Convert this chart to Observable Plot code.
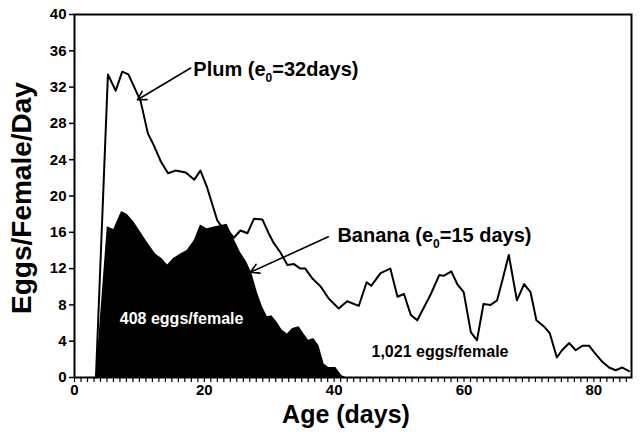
<!DOCTYPE html>
<html><head><meta charset="utf-8">
<script src="https://cdn.jsdelivr.net/npm/d3@7"></script>
<script src="https://cdn.jsdelivr.net/npm/@observablehq/plot@0.6"></script>
<style>body{margin:0;background:#fff} svg{font-family:"Liberation Sans",Arial,sans-serif}</style>
</head><body><div id="chart"></div>
<script>
// Plum (line) : age (days) and eggs/female/day
const plumDay = [3.3,5.15,6.35,7.35,8.3,9.4,10.2,11.3,12.2,13.3,14.4,15.55,17.15,18.45,19.4,20.4,22.0,22.5,23.6,24.55,25.55,26.65,27.65,28.95,29.9,30.7,31.7,32.8,33.8,34.8,35.55,36.65,37.95,39.15,40.7,42.0,43.8,45.0,45.7,47.15,48.65,49.75,50.75,51.8,52.8,54.9,56.2,56.85,58.05,58.95,59.95,61.05,62.0,63.0,64.1,65.1,65.9,66.9,68.15,69.25,70.25,71.15,72.35,73.2,74.3,75.1,76.2,77.2,78.25,79.25,80.25,81.35,82.35,83.35,84.4,85.4];
const plumVal = [0,33.4,31.6,33.7,33.4,31.7,30.4,26.9,25.6,23.8,22.5,22.8,22.6,21.8,22.8,21.0,17.3,16.8,16.2,15.4,16.2,15.9,17.5,17.4,15.9,14.8,13.8,12.4,12.5,12.0,12.0,10.9,10.0,8.7,7.6,8.4,7.9,10.5,10.1,11.5,12.0,8.9,9.2,6.9,6.3,9.2,11.3,11.2,11.7,10.3,9.4,5.0,4.1,8.1,8.0,8.5,10.7,13.5,8.5,10.3,9.4,6.3,5.6,4.9,2.2,3.0,3.8,3.0,3.5,3.5,2.6,1.7,1.1,0.8,1.1,0.7];
// Banana (filled area)
const bananaDay = [3.3,5.05,6.05,7.25,8.1,9.1,10.2,11.2,12.5,13.45,14.35,15.25,16.35,17.35,18.45,19.4,20.4,21.7,23.5,24.55,25.55,26.55,27.35,28.15,28.95,29.7,30.4,31.2,32.0,32.8,33.6,34.6,35.35,36.05,36.85,37.65,38.45,39.15,40.25,41.2,41.8];
const bananaVal = [0,16.6,16.3,18.3,18.0,17.2,16.0,14.9,13.6,13.1,12.4,13.1,13.6,14.0,15.1,16.8,16.4,16.6,16.9,15.3,13.8,12.7,11.4,9.4,7.8,6.7,6.8,6.1,5.2,4.8,5.4,5.6,4.8,4.1,4.3,3.5,1.5,1.1,1.1,0.2,0];

const xTicks = d3.range(0, 86, 1);
const xLabelTicks = [0, 20, 40, 60, 80];
const yTicks = [0, 4, 8, 12, 16, 20, 24, 28, 32, 36, 40];

// annotations (data units)
const noteText = ["Plum (e\u2080=32days)", "Banana (e\u2080=15 days)", "408 eggs/female", "1,021 eggs/female"];
const noteX = [18.3, 40.5, 16.5, 56.3];
const noteY = [33.9, 15.6, 6.5, 2.8];
const arrowX1 = [17.9, 39.1];
const arrowY1 = [34.1, 15.5];
const arrowX2 = [9.7, 27.1];
const arrowY2 = [30.6, 11.6];

const plum = plumDay.map((d, i) => ({day: d, v: plumVal[i]}));
const banana = bananaDay.map((d, i) => ({day: d, v: bananaVal[i]}));
const arrows = arrowX1.map((d, i) => ({x1: d, y1: arrowY1[i], x2: arrowX2[i], y2: arrowY2[i]}));
const notes = noteText.map((t, i) => ({t, x: noteX[i], y: noteY[i]}));

const chart = Plot.plot({
  width: 641, height: 440,
  marginLeft: 74, marginRight: 10, marginTop: 14, marginBottom: 63,
  style: {fontFamily: "'Liberation Sans', Arial, sans-serif", fontWeight: "bold", background: "#fff", color: "#000"},
  x: {domain: [0, 85.8]},
  y: {domain: [0, 40]},
  marks: [
    Plot.areaY(banana, {x: "day", y: "v", fill: "black"}),
    Plot.line(plum, {x: "day", y: "v", stroke: "black", strokeWidth: 2}),
    Plot.frame({stroke: "black", strokeWidth: 2}),
    Plot.axisY({ticks: yTicks, tickSize: 5, tickPadding: 3, fontSize: 15, label: null, strokeWidth: 1.5}),
    Plot.axisX({ticks: xTicks, tickSize: 5, tickPadding: 2, fontSize: 15, label: null, strokeWidth: 1.2,
      tickFormat: d => xLabelTicks.includes(d) ? String(d) : ""}),
    Plot.text(["Eggs/Female/Day"], {frameAnchor: "left", textAnchor: "middle", dx: -52, dy: 2, rotate: -90, fontSize: 28, fontWeight: "bold"}),
    Plot.text(["Age (days)"], {frameAnchor: "bottom", dx: -7, dy: 45, fontSize: 25, fontWeight: "bold"}),
    Plot.arrow(arrows, {x1: "x1", y1: "y1", x2: "x2", y2: "y2", stroke: "black", strokeWidth: 1.6, headLength: 9}),
    Plot.text(notes.slice(0, 2), {x: "x", y: "y", text: "t", textAnchor: "start", fontSize: 20, fontWeight: "bold", fill: "black"}),
    Plot.text(notes.slice(2, 3), {x: "x", y: "y", text: "t", fontSize: 16, fontWeight: "bold", fill: "white"}),
    Plot.text(notes.slice(3, 4), {x: "x", y: "y", text: "t", fontSize: 16, fontWeight: "bold", fill: "black"})
  ]
});

// render the "₀" as a true subscript
chart.querySelectorAll("text").forEach(el => {
  const s = el.textContent;
  if (s.includes("\u2080")) {
    const [a, b] = s.split("\u2080");
    el.textContent = "";
    const ns = "http://www.w3.org/2000/svg";
    const t1 = document.createElementNS(ns, "tspan"); t1.textContent = a;
    const t2 = document.createElementNS(ns, "tspan"); t2.textContent = "0";
    t2.setAttribute("font-size", "12"); t2.setAttribute("dy", "6");
    const t3 = document.createElementNS(ns, "tspan"); t3.textContent = b; t3.setAttribute("dy", "-6");
    el.append(t1, t2, t3);
  }
});
document.getElementById("chart").append(chart);
</script>
</body></html>
